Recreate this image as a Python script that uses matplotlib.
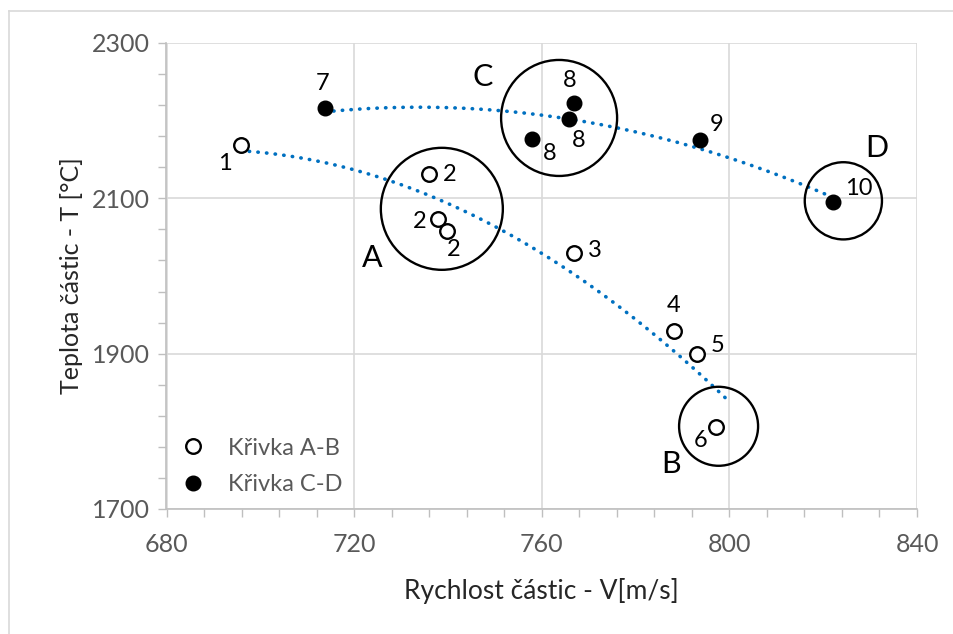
import matplotlib
matplotlib.use("Agg")
import matplotlib.pyplot as plt
import numpy as np
from matplotlib.patches import Ellipse
from matplotlib.ticker import MultipleLocator

plt.rcParams["font.family"] = ["Lato", "DejaVu Sans"]

# Křivka A-B (prázdné body)
ab_x = [695.8, 735.9, 737.9, 739.9, 766.9, 788.1, 793.1, 797.2]
ab_y = [2169, 2131, 2073, 2058, 2029, 1929, 1900, 1806]
ab_lbl = ["1", "2", "2", "2", "3", "4", "5", "6"]

# Křivka C-D (plné body)
cd_x = [713.8, 766.9, 765.8, 758.0, 793.8, 822.1]
cd_y = [2216, 2223, 2202, 2177, 2175, 2095]
cd_lbl = ["7", "8", "8", "8", "9", "10"]

# oblasti A, B, C, D (střed x, střed y)
zone_names = ["A", "B", "C", "D"]
zone_x = [738.7, 797.7, 763.7, 824.3]
zone_y = [2086.5, 1806.5, 2203.5, 2096.8]

trend_end_ab = 800

# posuny popisků v pixelech
ab_off = [(-16, -19), (21, 0), (-18, -2), (6, -19), (21, 3), (0, 26), (21, 8), (-16, -14)]
cd_off = [(-2, 25), (-4, 22), (10, -21), (17, -15), (16, 16), (26, 14)]
zone_r = [61, 39.5, 58, 38.6]
zone_txt = [(-70, -49), (-48, -38), (-76, 41), (33, 53)]

fig = plt.figure(figsize=(9.54, 6.34), dpi=100)
ax = fig.add_axes([166.5 / 954, 1 - 509 / 634, 750.5 / 954, 466 / 634])

grid_c = "#d9d9d9"
tick_c = "#595959"

# trendlines (polynom 2. stupně)
c_ab = np.polyfit(ab_x, ab_y, 2)
xs = np.linspace(min(ab_x), trend_end_ab, 200)
ax.plot(xs, np.polyval(c_ab, xs), color="#0070C0", lw=2.6,
        linestyle=(0, (0.1, 2.3)), dash_capstyle="round", zorder=2)
c_cd = np.polyfit(cd_x, cd_y, 2)
xs = np.linspace(min(cd_x), max(cd_x), 200)
ax.plot(xs, np.polyval(c_cd, xs), color="#0070C0", lw=2.6,
        linestyle=(0, (0.1, 2.3)), dash_capstyle="round", zorder=2)

ax.plot(ab_x, ab_y, "o", ms=10.5, mfc="white", mec="black", mew=1.7,
        label="Křivka A-B", zorder=3)
ax.plot(cd_x, cd_y, "o", ms=10.5, mfc="black", mec="black", mew=1.0,
        label="Křivka C-D", zorder=3)

for x, y, t, off in zip(ab_x, ab_y, ab_lbl, ab_off):
    ax.annotate(t, (x, y), xytext=off, textcoords="offset pixels",
                ha="center", va="center", fontsize=17, color="black")
for x, y, t, off in zip(cd_x, cd_y, cd_lbl, cd_off):
    ax.annotate(t, (x, y), xytext=off, textcoords="offset pixels",
                ha="center", va="center", fontsize=17, color="black")

ax.set_xlim(680, 840)
ax.set_ylim(1700, 2300)

# kruhy v pixelech -> data
px_x = 750.5 / 160
px_y = 466 / 600
for name, x, y, r, off in zip(zone_names, zone_x, zone_y, zone_r, zone_txt):
    ax.add_patch(Ellipse((x, y), 2 * r / px_x, 2 * r / px_y, fill=False,
                         ec="black", lw=1.7, zorder=4))
    ax.annotate(name, (x, y), xytext=off, textcoords="offset pixels",
                ha="center", va="center", fontsize=22, color="black")

ax.xaxis.set_major_locator(MultipleLocator(40))
ax.xaxis.set_minor_locator(MultipleLocator(8))
ax.yaxis.set_major_locator(MultipleLocator(200, offset=100))
ax.yaxis.set_minor_locator(MultipleLocator(40, offset=20))
ax.grid(True, which="major", color=grid_c, lw=1.2)
ax.set_axisbelow(True)

for s in ["top", "right"]:
    ax.spines[s].set_visible(False)
for s in ["left", "bottom"]:
    ax.spines[s].set_color("#bfbfbf")
    ax.spines[s].set_linewidth(1.2)

ax.tick_params(which="both", direction="out", length=6, width=1.0,
               color="#bfbfbf", labelsize=18, labelcolor=tick_c)
ax.tick_params(axis="x", pad=11)
ax.tick_params(axis="y", pad=6)

ax.set_xlabel("Rychlost částic - V[m/s]", fontsize=19, color="#262626", labelpad=16)
ax.set_ylabel("Teplota částic - T [°C]", fontsize=18, color="#262626", labelpad=6)

ax.legend(loc="lower left", bbox_to_anchor=(0.0196, 0.03), frameon=False,
          fontsize=17, labelcolor=tick_c, handlelength=1.0, handletextpad=1.0,
          labelspacing=0.65, borderaxespad=0, borderpad=0)

# rámeček grafu
fig.add_artist(plt.Line2D([9 / 954, 9 / 954], [0, 1 - 11 / 634], color="#d9d9d9",
                          lw=1.2, transform=fig.transFigure))
fig.add_artist(plt.Line2D([9 / 954, 1], [1 - 11 / 634, 1 - 11 / 634], color="#d9d9d9",
                          lw=1.2, transform=fig.transFigure))

fig.savefig("out.png", dpi=100)
